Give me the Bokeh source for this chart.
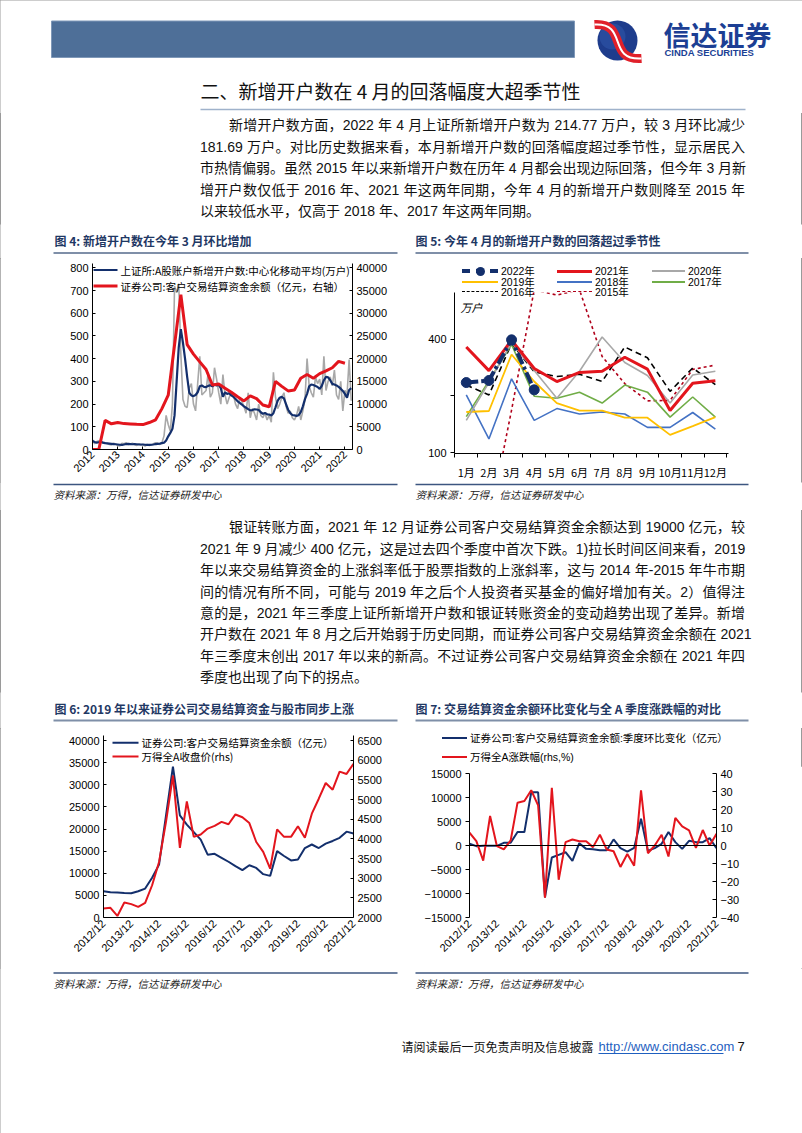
import math
from bokeh.plotting import figure
from bokeh.models import Range1d, LinearAxis, FixedTicker, Span, Label, Div
from bokeh.layouts import column, row
from bokeh.embed import file_html
from bokeh.resources import INLINE
from bokeh.core.properties import value

# ---------------- data ----------------
year_ticks = [2012, 2013, 2014, 2015, 2016, 2017, 2018, 2019, 2020, 2021, 2022]

# 上证所 A股账户新增开户数（月度，万户），2012-01 ~ 2022-04
new_accounts_raw = [
    42, 25, 35, 38, 40, 28, 30, 26, 22, 20, 28, 24,
    18, 15, 28, 25, 30, 22, 24, 28, 22, 18, 25, 20,
    22, 15, 22, 18, 20, 25, 30, 28, 22, 30, 60, 150,
    110, 80, 200, 720, 690, 730, 420, 220, 190, 185, 270, 290,
    200, 170, 290, 410, 240, 250, 260, 340, 230, 250, 360, 310,
    250, 200, 330, 240, 200, 230, 250, 240, 200, 180, 230, 210,
    190, 160, 250, 140, 180, 160, 130, 200, 150, 140, 160, 130,
    150, 120, 340, 230, 180, 200, 230, 250, 190, 160, 170, 140,
    130, 150, 190, 130, 170, 220, 400, 280, 250, 230, 320, 290,
    310, 240, 410, 260, 300, 320, 280, 350, 240, 220, 300, 170,
    260, 240, 396, 215]
# 中心化移动平均（万户）
new_accounts_ma = [
    38, 33, 30, 32, 34, 30, 28, 27, 26, 25, 24, 23,
    22, 21, 20, 22, 24, 25, 24, 23, 24, 23, 22, 22,
    22, 21, 20, 20, 21, 22, 24, 25, 26, 28, 30, 40,
    58, 73, 91, 150, 300, 450, 530, 470, 400, 320, 250, 238,
    235, 240, 252, 278, 282, 276, 275, 280, 283, 278, 286, 282,
    285, 270, 232, 252, 245, 248, 238, 232, 222, 212, 205, 198,
    190, 184, 178, 172, 174, 177, 176, 174, 164, 157, 161, 155,
    154, 150, 160, 186, 214, 228, 232, 225, 200, 175, 160, 152,
    150, 148, 151, 165, 190, 222, 245, 278, 286, 284, 280, 275,
    267, 280, 305, 320, 318, 305, 289, 286, 282, 276, 268, 258,
    245, 228, 262, 270]
# 证券公司客户交易结算资金余额（亿元，季末）
funds_2012_early = [0, 0, 6400, 5650]          # 2011/12 ~ 2012/09
funds_q = [5940, 5700, 5640, 5560, 5490, 5940, 6540, 9000, 11950,
           23000, 34100, 23100, 21000, 19300, 17600, 14200, 14400,
           13500, 12600, 11600, 10700, 11800, 11200, 9800, 9400,
           15000, 13900, 12900, 13100, 15700, 16500, 15700, 16700,
           17300, 18000, 19400, 19000]           # 2012/12 ~ 2021/12
# 万得全A收盘价（季末）
wind_close_q = [2228, 2245, 2040, 2380, 2340, 2270, 2370, 2820, 3410,
                4430, 5610, 3770, 4950, 4050, 4110, 4260, 4330,
                4430, 4370, 4620, 4550, 4400, 3920, 3670, 3240,
                4240, 4050, 4050, 4320, 4030, 4640, 5020, 5420,
                5250, 5710, 5650, 5910]
# 交易结算资金余额季度环比变化（亿元）
funds_qoq = [350, -140, -70, -70, -70, 560, 560, 2800, 2800,
             11100, 11100, -10800, -2500, -1950, -1400, -3200, 490,
             -700, -770, -980, -980, 1260, -560, -1260, -490,
             5580, -1120, -560, 350, 2800, 700, -700, 980,
             700, 700, 1540, -560]
# 万得全A季度涨跌幅（%）
wind_ret_q = [7.1, 2.4, -8.4, 16.4, -0.4, -2.2, 2.8, 23.8, 24.7,
              30.7, 22.3, -29.0, 32.0, -19.0, 1.9, 3.3, 2.4,
              2.4, -0.9, 6.0, -2.2, -3.2, -11.9, -4.7, -11.2,
              30.7, -4.3, 0.0, 6.0, -6.1, 15.3, 10.6, 8.4,
              -1.3, 8.6, 0.0, 6.5]
quarter_tick_labels = ["2012/12", "2013/12", "2014/12", "2015/12", "2016/12",
                       "2017/12", "2018/12", "2019/12", "2020/12", "2021/12"]

# 新增开户数季节性（万户）
month_labels = ["1月", "2月", "3月", "4月", "5月", "6月", "7月", "8月", "9月", "10月", "11月", "12月"]
acc_2022 = [235, 241, 396, 215]
acc_2021 = [363, 272, 394, 279, 238, 266, 270, 320, 277, 167, 233, 240]
acc_2020 = [148, 235, 383, 272, 194, 270, 410, 300, 256, 183, 258, 270]
acc_2019 = [164, 166, 331, 238, 183, 167, 167, 153, 153, 124, 138, 154]
acc_2018 = [202, 118, 246, 148, 171, 160, 164, 160, 136, 136, 163, 133]
acc_2017 = [155, 240, 374, 199, 194, 209, 183, 228, 209, 154, 197, 154]
acc_2016 = [228, 202, 378, 268, 253, 260, 238, 363, 318, 211, 281, 229]
acc_2015 = [60, 42, 168, 730, 684, 730, 323, 232, 188, 189, 276, 291]

# ---------------- styles ----------------
CJK = "Noto Sans CJK SC"
LAT = "Liberation Sans"
NAVY = "#132F6C"
RED = "#E3151D"
GRAY = "#A8A8A8"
TITLE_C = "#1F3864"
RULE_C = "#3C5680"
C15 = "#B0001A"
C17 = "#70AD47"
C18 = "#4472C4"
C19 = "#FFC000"
W = 802


def page_fig(left, right, top, bottom):
    p = figure(width=right - left, height=bottom - top, x_range=Range1d(left, right),
               y_range=Range1d(bottom, top), output_backend="svg",
               toolbar_location=None, x_axis_location=None, y_axis_location=None,
               min_border=0)
    p.grid.visible = False
    p.outline_line_color = None
    return p


def txt(p, x, y, s, size="14px", font=CJK, color="#111111", style="normal", align="left"):
    p.text(x=[x], y=[y], text=[s], text_font=value(font), text_font_size=size,
           text_color=color, text_font_style=style, text_align=align,
           text_baseline="middle")


def hline(p, x0, x1, y, color, w, dash="solid"):
    p.segment(x0=[x0], y0=[y], x1=[x1], y1=[y], line_color=color, line_width=w, line_dash=dash)


def chart_fig(w, h, xr, yr, bl, br, bt, bb, **kw):
    p = figure(width=w, height=h, x_range=xr, y_range=yr, output_backend="svg",
               toolbar_location=None, min_border_left=bl, min_border_right=br,
               min_border_top=bt, min_border_bottom=bb, **kw)
    p.grid.visible = False
    p.outline_line_color = None
    return p


def style_axis(ax, tin=3, tout=0, font=LAT):
    ax.axis_line_color = "black"
    ax.axis_line_width = 1
    ax.major_tick_line_color = "black"
    ax.major_tick_in = tin
    ax.major_tick_out = tout
    ax.minor_tick_line_color = None
    ax.major_label_text_font = font
    ax.major_label_text_font_size = "11px"
    ax.major_label_text_color = "black"
    ax.major_label_standoff = 4


class Frame:
    """page-pixel -> data conversion for legend decorations inside a frame"""
    def __init__(self, fl, ft, fw, fh, xr, yr):
        self.fl, self.ft, self.fw, self.fh, self.xr, self.yr = fl, ft, fw, fh, xr, yr

    def x(self, px):
        return self.xr[0] + (px - self.fl) / self.fw * (self.xr[1] - self.xr[0])

    def y(self, py):
        return self.yr[1] - (py - self.ft) / self.fh * (self.yr[1] - self.yr[0])


def frame_legend(p, fr, x0, x1, y, label, color, width, dash="solid"):
    p.segment(x0=[fr.x(x0)], y0=[fr.y(y)], x1=[fr.x(x1)], y1=[fr.y(y)],
              line_color=color, line_width=width, line_dash=dash)
    p.text(x=[fr.x(x1 + 3)], y=[fr.y(y)], text=[label], text_font=value(CJK),
           text_font_size="10.5px", text_color="black", text_baseline="middle")


FONT_MIX = "'Liberation Sans','Noto Sans CJK SC'"


def legend_div(w, h, items, fs="10.5px", lh=14):
    """items: (x0, x1, y_center, label, color, line_width, css_style, marker) relative to the div"""
    parts = []
    for x0, x1, yc, label, color, lw, st, marker in items:
        parts.append(
            f'<span style="position:absolute;left:{x0}px;top:{yc - lw / 2:.1f}px;width:{x1 - x0}px;'
            f'height:0;border-top:{lw}px {st} {color};"></span>')
        if marker:
            xm = (x0 + x1) / 2
            parts.append(
                f'<span style="position:absolute;left:{xm - 4.5:.1f}px;top:{yc - 4.5:.1f}px;width:9px;'
                f'height:9px;border-radius:50%;background:{color};"></span>')
        parts.append(
            f'<span style="position:absolute;left:{x1 + 3}px;top:{yc - lh / 2:.1f}px;height:{lh}px;'
            f'line-height:{lh}px;white-space:nowrap;font-family:{FONT_MIX};'
            f'font-size:{fs};color:#000;">{label}</span>')
    html = (f'<div style="position:relative;width:{w}px;height:{h}px;overflow:visible;">'
            + "".join(parts) + '</div>')
    return Div(text=html, width=w, height=h, margin=(0, 0, 0, 0))


def para_div(top, bottom, lines, first_y, pitch=21.4, left=200, indent=229, right=745):
    parts = []
    for i, s in enumerate(lines):
        x = indent if i == 0 else left
        yc = first_y + pitch * i - top
        last = "left" if i == len(lines) - 1 else "justify"
        parts.append(
            f'<div style="position:absolute;left:{x}px;top:{yc - pitch / 2:.1f}px;width:{right - x}px;'
            f'height:{pitch}px;line-height:{pitch}px;white-space:nowrap;font-family:{FONT_MIX};'
            f'font-size:14px;color:#111;text-align:justify;text-align-last:{last};'
            f'text-justify:inter-character;">{s}</div>')
    html = (f'<div style="position:relative;width:{W}px;height:{bottom - top}px;">'
            + "".join(parts) + '</div>')
    return Div(text=html, width=W, height=bottom - top, margin=(0, 0, 0, 0))


SOURCE = "资料来源：万得，信达证券研发中心"

# ---------------- page top ----------------
P1 = page_fig(0, W, 0, 113)
P1.quad(left=[51], right=[574], top=[20.5], bottom=[57], fill_color="#4E6F98", line_color="#7F98B8")
P1.circle(x=[617], y=[40], radius=20, fill_color="#1E3C8C", line_color=None)
P1.circle(x=[612], y=[36], radius=13, fill_color="#2F55A8", line_color=None, fill_alpha=0.6)
P1.bezier(x0=[594], y0=[24], x1=[641], y1=[58], cx0=[628], cy0=[22], cx1=[606], cy1=[60],
          line_color="#E0202A", line_width=9)
P1.bezier(x0=[594], y0=[24], x1=[641], y1=[58], cx0=[628], cy0=[22], cx1=[606], cy1=[60],
          line_color="white", line_width=2)
txt(P1, 663, 34, "信达证券", size="27px", color="#1C3F94", style="bold")
txt(P1, 664, 52, "CINDA SECURITIES", size="9.5px", font=LAT, color="#1C3F94", style="bold")
txt(P1, 200, 90, "二、新增开户数在 4 月的回落幅度大超季节性", size="19px")
hline(P1, 200, 745, 109, "#9FB2CB", 1.5)

para1 = ["新增开户数方面，2022 年 4 月上证所新增开户数为 214.77 万户，较 3 月环比减少",
         "181.69 万户。对比历史数据来看，本月新增开户数的回落幅度超过季节性，显示居民入",
         "市热情偏弱。虽然 2015 年以来新增开户数在历年 4 月都会出现边际回落，但今年 3 月新",
         "增开户数仅低于 2016 年、2021 年这两年同期，今年 4 月的新增开户数则降至 2015 年",
         "以来较低水平，仅高于 2018 年、2017 年这两年同期。"]
D1 = para_div(113, 224, para1, 126)

P1c = page_fig(0, W, 224, 258)
txt(P1c, 54, 240, "图 4: 新增开户数在今年 3 月环比增加", size="12px", color=TITLE_C, style="bold")
txt(P1c, 415, 240, "图 5: 今年 4 月的新增开户数的回落超过季节性", size="12px", color=TITLE_C, style="bold")
hline(P1c, 53, 397, 252.5, "#7F8FA8", 2)
hline(P1c, 415, 748, 252.5, "#7F8FA8", 2)

# ---------------- chart 4 ----------------
H1 = 224
c4_top = 5
c4_yr = (0, 800 * 186 / 181.7)
p4 = chart_fig(405, H1, Range1d(2012.0, 2022.3), Range1d(*c4_yr), 92, 53, c4_top, 33)
p4.extra_y_ranges = {"funds": Range1d(0, 40000 * c4_yr[1] / 800)}
ax4r = LinearAxis(y_range_name="funds", ticker=FixedTicker(ticks=list(range(0, 40001, 5000))))
p4.add_layout(ax4r, "right")
p4.yaxis[0].ticker = FixedTicker(ticks=list(range(0, 801, 100)))
p4.xaxis[0].ticker = FixedTicker(ticks=year_ticks)
p4.xaxis[0].major_label_orientation = math.pi / 4
for ax in p4.yaxis:
    style_axis(ax, tin=3, tout=0)
style_axis(p4.xaxis[0], tin=3, tout=0)
p4.xaxis[0].major_label_standoff = 3

x_month = [2012 + i / 12 for i in range(len(new_accounts_ma))]
funds_c4 = funds_2012_early + funds_q
x_q4 = [2012.0 + 0.25 * k for k in range(len(funds_c4))]
p4.line(x_month, new_accounts_raw, line_color=GRAY, line_width=1.6)
p4.line(x_month, new_accounts_ma, line_color=NAVY, line_width=2.2)
p4.line(x_q4, funds_c4, line_color=RED, line_width=3, y_range_name="funds")
fr4 = Frame(92, 258 + c4_top, 405 - 92 - 53, H1 - c4_top - 33, (2012.0, 2022.3), c4_yr)
frame_legend(p4, fr4, 93, 117, 269.5, "上证所:A股账户新增开户数:中心化移动平均(万户)", NAVY, 2.2)
frame_legend(p4, fr4, 93, 117, 285.5, "证券公司:客户交易结算资金余额（亿元，右轴）", RED, 3)

# ---------------- chart 5 ----------------
L5 = legend_div(397, 34, [
    (57, 93, 13, "2022年", NAVY, 4, "dashed", True),
    (152, 187, 13, "2021年", RED, 3, "solid", False),
    (247, 280, 13, "2020年", GRAY, 2, "solid", False),
    (57, 93, 23.5, "2019年", C19, 2, "solid", False),
    (152, 187, 23.5, "2018年", C18, 2, "solid", False),
    (247, 280, 23.5, "2017年", C17, 2, "solid", False),
    (57, 93, 33.5, "2016年", "black", 1.5, "dashed", False),
    (152, 187, 33.5, "2015年", C15, 1.5, "dashed", False),
], fs="10.5px", lh=10)

H5 = 482 - 292
p5 = chart_fig(397, H5, Range1d(0.48, 12.58), Range1d(98.8, 706), 49, 74, 0, 28, y_axis_type="log")
p5.border_fill_alpha = 0
p5.background_fill_alpha = 0
f5h = H5 - 28
mx = list(range(1, 13))
p5.yaxis[0].ticker = FixedTicker(ticks=[100, 200, 400])
p5.yaxis[0].major_label_overrides = {100: "100", 200: "", 400: "400"}
style_axis(p5.yaxis[0], tin=0, tout=4)
p5.xaxis[0].ticker = FixedTicker(ticks=mx, minor_ticks=[m - 0.5 for m in mx] + [12.5])
p5.xaxis[0].major_label_overrides = {m: lab for m, lab in zip(mx, month_labels)}
style_axis(p5.xaxis[0], tin=0, tout=0, font=CJK)
p5.xaxis[0].minor_tick_line_color = "black"
p5.xaxis[0].minor_tick_out = 4
p5.xaxis[0].minor_tick_in = 0
p5.xaxis[0].major_label_standoff = 6

p5.line(mx, acc_2015, line_color=C15, line_width=1.6, line_dash="3 3")
p5.line(mx, acc_2016, line_color="black", line_width=1.6, line_dash="6 4")
p5.line(mx, acc_2017, line_color=C17, line_width=1.6)
p5.line(mx, acc_2018, line_color=C18, line_width=1.6)
p5.line(mx, acc_2019, line_color=C19, line_width=1.8)
p5.line(mx, acc_2020, line_color=GRAY, line_width=1.6)
p5.line(mx, acc_2021, line_color=RED, line_width=3)
p5.line(mx[:len(acc_2022)], acc_2022, line_color=NAVY, line_width=4, line_dash="12 3 3 3")
p5.scatter(mx[:len(acc_2022)], acc_2022, size=10, fill_color=NAVY, line_color=NAVY)
p5.add_layout(Label(x=6, y=f5h - 15, x_units="screen", y_units="screen", text="万户",
                    text_font=CJK, text_font_size="11px", text_font_style="italic",
                    text_baseline="middle", text_color="black"))

# ---------------- page middle ----------------
P2 = page_fig(0, W, 482, 510)
hline(P2, 53, 397, 484, RULE_C, 1.5)
hline(P2, 415, 748, 484, RULE_C, 1.5)
txt(P2, 53, 494, SOURCE, size="10.5px", color="#222222", style="italic")
txt(P2, 415, 494, SOURCE, size="10.5px", color="#222222", style="italic")

para2 = ["银证转账方面，2021 年 12 月证券公司客户交易结算资金余额达到 19000 亿元，较",
         "2021 年 9 月减少 400 亿元，这是过去四个季度中首次下跌。1)拉长时间区间来看，2019",
         "年以来交易结算资金的上涨斜率低于股票指数的上涨斜率，这与 2014 年-2015 年牛市期",
         "间的情况有所不同，可能与 2019 年之后个人投资者买基金的偏好增加有关。2）值得注",
         "意的是，2021 年三季度上证所新增开户数和银证转账资金的变动趋势出现了差异。新增",
         "开户数在 2021 年 8 月之后开始弱于历史同期，而证券公司客户交易结算资金余额在 2021",
         "年三季度末创出 2017 年以来的新高。不过证券公司客户交易结算资金余额在 2021 年四",
         "季度也出现了向下的拐点。"]
D2 = para_div(510, 692, para2, 528)

P2c = page_fig(0, W, 692, 728)
txt(P2c, 54, 708, "图 6: 2019 年以来证券公司交易结算资金与股市同步上涨", size="12px", color=TITLE_C, style="bold")
txt(P2c, 415, 708, "图 7: 交易结算资金余额环比变化与全 A 季度涨跌幅的对比", size="12px", color=TITLE_C, style="bold")
hline(P2c, 53, 397, 720, "#7F8FA8", 2)
hline(P2c, 415, 748, 720, "#7F8FA8", 2)

# ---------------- chart 6 ----------------
H2 = 240
nq = len(funds_q)
xq = list(range(nq))
qticks = list(range(0, nq, 4))
c6_top = 7
c6_fh = H2 - c6_top - 51
c6_yr = (0, 40000 * c6_fh / 177)
p6 = chart_fig(405, H2, Range1d(0, nq - 1), Range1d(*c6_yr), 103, 52, c6_top, 51)
p6.extra_y_ranges = {"close": Range1d(2000, 2000 + 4500 * c6_fh / 177)}
ax6r = LinearAxis(y_range_name="close", ticker=FixedTicker(ticks=list(range(2000, 6501, 500))))
p6.add_layout(ax6r, "right")
p6.yaxis[0].ticker = FixedTicker(ticks=list(range(0, 40001, 5000)))
for ax in p6.yaxis:
    style_axis(ax, tin=3, tout=0)
p6.xaxis[0].ticker = FixedTicker(ticks=qticks)
p6.xaxis[0].major_label_overrides = {t: lab for t, lab in zip(qticks, quarter_tick_labels)}
p6.xaxis[0].major_label_orientation = math.pi / 4
style_axis(p6.xaxis[0], tin=0, tout=0)
p6.line(xq, funds_q, line_color=NAVY, line_width=2)
p6.line(xq, wind_close_q, line_color=RED, line_width=2, y_range_name="close")
fr6 = Frame(103, 728 + c6_top, 405 - 103 - 52, c6_fh, (0, nq - 1), c6_yr)
frame_legend(p6, fr6, 112, 138, 742.3, "证券公司:客户交易结算资金余额（亿元）", NAVY, 2)
frame_legend(p6, fr6, 112, 138, 756, "万得全A收盘价(rhs)", RED, 2)

# ---------------- chart 7 ----------------
L7 = legend_div(397, 38, [
    (37, 62, 10, "证券公司:客户交易结算资金余额:季度环比变化（亿元）", NAVY, 2, "solid", False),
    (37, 62, 29, "万得全A涨跌幅(rhs,%)", RED, 2, "solid", False),
])

H7 = 968 - 766
p7 = chart_fig(397, H7, Range1d(0, nq - 1), Range1d(-15000, 15000), 64, 86, 7, 51)
p7.extra_y_ranges = {"ret": Range1d(-40, 40)}
ax7r = LinearAxis(y_range_name="ret", ticker=FixedTicker(ticks=list(range(-40, 41, 10))))
p7.add_layout(ax7r, "right")
p7.yaxis[0].ticker = FixedTicker(ticks=list(range(-15000, 15001, 5000)))
style_axis(p7.yaxis[0], tin=0, tout=4)
style_axis(ax7r, tin=4, tout=0)
p7.xaxis[0].ticker = FixedTicker(ticks=qticks)
p7.xaxis[0].major_label_overrides = {t: lab for t, lab in zip(qticks, quarter_tick_labels)}
p7.xaxis[0].major_label_orientation = math.pi / 4
style_axis(p7.xaxis[0], tin=0, tout=0)
p7.xaxis[0].axis_line_color = None
p7.add_layout(Span(location=0, dimension="width", line_color="black", line_width=1))
p7.line(xq, funds_qoq, line_color=NAVY, line_width=2)
p7.line(xq, wind_ret_q, line_color=RED, line_width=2, y_range_name="ret")

# ---------------- page bottom ----------------
P3 = page_fig(0, W, 968, 1133)
hline(P3, 53, 397, 972.5, RULE_C, 1.5)
hline(P3, 415, 748, 972.5, RULE_C, 1.5)
txt(P3, 53, 983, SOURCE, size="10.5px", color="#222222", style="italic")
txt(P3, 415, 983, SOURCE, size="10.5px", color="#222222", style="italic")
txt(P3, 401, 1046, "请阅读最后一页免责声明及信息披露", size="12px")
txt(P3, 598, 1046, "http://www.cindasc.com", size="13px", font=LAT, color="#1F5FBF")
hline(P3, 598, 723, 1053, "#1F5FBF", 1)
txt(P3, 737, 1046, "7", size="13px", font=LAT, color="#111111")

layout = column(P1, D1, P1c, row(p4, column(L5, p5)), P2, D2, P2c, row(p6, column(L7, p7)), P3,
                styles={"outline": "1px solid #9a9a9a", "outline-offset": "-1px"})
open("out.html", "w").write(file_html(layout, INLINE))
